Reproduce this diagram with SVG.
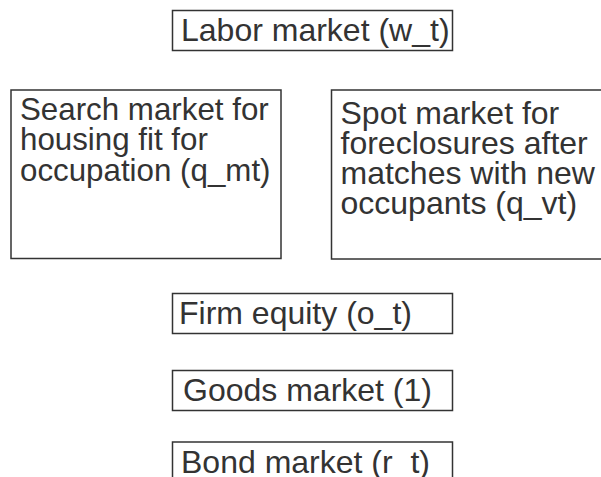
<svg xmlns="http://www.w3.org/2000/svg" width="601" height="477" viewBox="0 0 601 477">
  <style>
    .box { fill: #ffffff; stroke: #333333; stroke-width: 1.5; }
    .lbl { font-family: "Liberation Sans", Arial, sans-serif; font-size: 32px; fill: #333333; }
    .sm { font-size: 31.3px; }
  </style>
  <rect width="601" height="477" fill="#ffffff"/>
  <g id="labor">
    <rect class="box" x="172.5" y="10.5" width="280" height="40"/>
    <text class="lbl" x="181" y="41">Labor market (w_t)</text>
  </g>
  <g id="search">
    <rect class="box" x="11" y="90" width="270" height="168.5"/>
    <text class="lbl sm" x="20" y="119.5">Search market for</text>
    <text class="lbl sm" x="20" y="150">housing fit for</text>
    <text class="lbl sm" x="20" y="180.5">occupation (q_mt)</text>
  </g>
  <g id="spot">
    <rect class="box" x="331.5" y="90" width="290" height="169"/>
    <text class="lbl" x="340.5" y="124">Spot market for</text>
    <text class="lbl" x="340.5" y="154">foreclosures after</text>
    <text class="lbl" x="340.5" y="184">matches with new</text>
    <text class="lbl" x="340.5" y="213.5">occupants (q_vt)</text>
  </g>
  <g id="equity">
    <rect class="box" x="172.5" y="293.5" width="280" height="40"/>
    <text class="lbl" x="179" y="323.5">Firm equity (o_t)</text>
  </g>
  <g id="goods">
    <rect class="box" x="172.5" y="370.5" width="280" height="40"/>
    <text class="lbl" x="183" y="401">Goods market (1)</text>
  </g>
  <g id="bond">
    <rect class="box" x="172.5" y="442" width="280" height="40"/>
    <text class="lbl" x="181" y="472.5">Bond market (r_t)</text>
  </g>
  <g id="connectors"></g>
</svg>
